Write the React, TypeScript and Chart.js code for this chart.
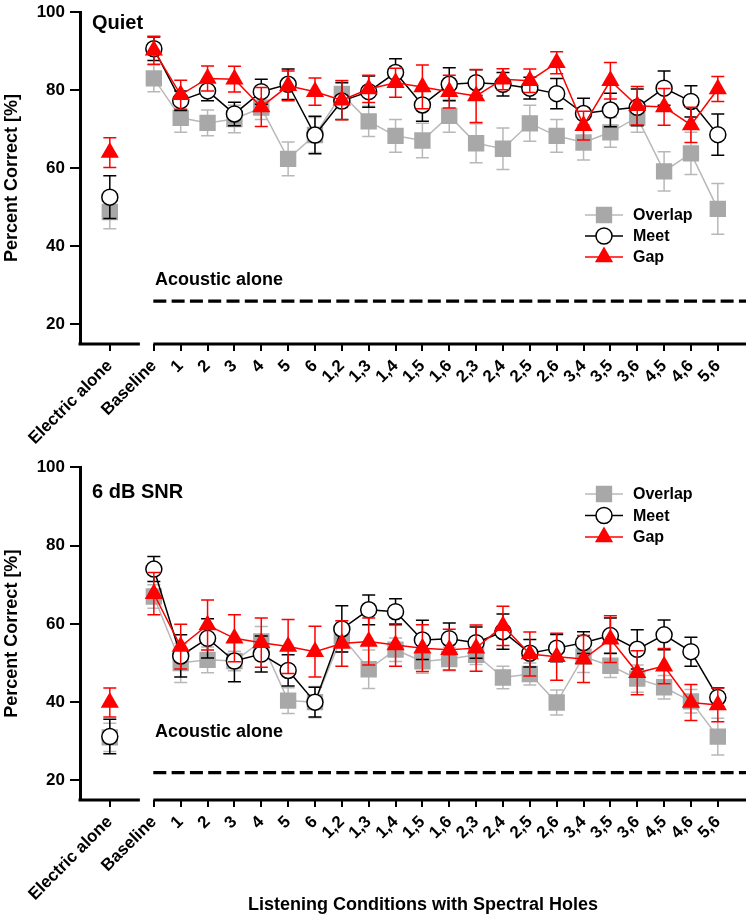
import React, { useEffect, useRef } from "react";
import { Chart, registerables } from "chart.js";

Chart.register(...registerables);

const FONT = '"Liberation Sans", Arial, sans-serif';

const CONDITIONS = [
  "Baseline", "1", "2", "3", "4", "5", "6",
  "1,2", "1,3", "1,4", "1,5", "1,6", "2,3", "2,4", "2,5", "2,6",
  "3,4", "3,5", "3,6", "4,5", "4,6", "5,6",
];
const ELECTRIC_LABEL = "Electric alone";
const ELECTRIC_POS = -1.64;
const X_MIN = -2.75;
const X_MAX = 22.05;
const AXIS_BREAK = [-0.52, -0.02];
const Y_TICKS = [20, 40, 60, 80, 100];

const SERIES_NAMES = ["Overlap", "Meet", "Gap"];

// Quiet
const QUIET_OVERLAP = [83, 72.9, 71.6, 72.6, 75.5, 62.4, 68.5, 79, 72, 68.3, 67.1, 73.4, 66.4, 65, 71.5, 68.3, 66.6, 69.2, 73, 59.2, 63.8, 49.6];
const QUIET_OVERLAP_ERR = [3.4, 3.7, 3.3, 3.5, 3, 4.3, 4.5, 3.5, 3.9, 4.2, 4.4, 4.2, 5, 5.3, 4.6, 4.2, 4.5, 3.8, 3.8, 5, 5.4, 6.5];
const QUIET_MEET = [90.6, 77.3, 79.8, 73.9, 79.6, 81.5, 68.5, 77.2, 79.6, 84.5, 76.2, 81.5, 81.9, 81.5, 80.5, 79.1, 74, 74.9, 75.6, 80.5, 77.1, 68.6];
const QUIET_MEET_ERR = [3, 2.5, 2.5, 3, 3.2, 3.9, 4.8, 4.7, 4, 3.5, 4.2, 4.2, 3.3, 3, 2.8, 3.9, 3.9, 4.3, 4.7, 4.4, 4, 5.3];
const QUIET_GAP = [90.2, 78.8, 83, 82.8, 75.7, 81.1, 79.6, 77.4, 80.3, 81.9, 80.8, 79.6, 78.5, 82.8, 82.4, 87, 70.9, 82.4, 76, 75.7, 71.1, 80.3];
const QUIET_GAP_ERR = [3.6, 3.7, 3.2, 3.3, 5, 3.8, 3.5, 5, 3.5, 3.7, 5.6, 4.2, 6.8, 2.7, 3, 2.8, 3.7, 4.7, 4.9, 4.7, 4.5, 3.2];
const QUIET_ELECTRIC = [48.8, 52.6, 64]; // overlap, meet, gap
const QUIET_ELECTRIC_ERR = [4.3, 5.5, 3.8];
const QUIET_ACOUSTIC = 26;

// 6 dB SNR
const SNR_OVERLAP = [67, 50, 50.8, 50.5, 55.5, 40.4, 40, 56.8, 48.4, 53.4, 50.4, 51, 52.1, 46.3, 47.2, 39.9, 51.6, 49.3, 46, 43.8, 40.2, 31.2];
const SNR_OVERLAP_ERR = [3, 5, 3.3, 2.5, 3.8, 3.3, 4, 4, 4.9, 3, 3, 3, 2.5, 2.9, 2.8, 3.2, 4, 3, 3.5, 3, 3, 4.7];
const SNR_MEET = [74, 51.8, 56.3, 50.5, 52.3, 48.1, 40, 58.7, 63.6, 63.1, 55.9, 56.2, 55.2, 58, 52.5, 53.8, 55.2, 57, 53.5, 57.2, 52.9, 41.2];
const SNR_MEET_ERR = [3.2, 5.4, 5, 5.3, 4.6, 4, 3.8, 5.9, 3.8, 3.3, 5, 4, 4, 4.5, 3.5, 3.5, 2.8, 4.5, 5, 3.8, 3.7, 2.5];
const SNR_GAP = [67.7, 54.2, 59.7, 56.3, 55.2, 54.2, 52.9, 55, 55.5, 54.6, 53.8, 53.4, 53.8, 59.5, 52.3, 51.6, 51, 56.1, 47.5, 49.2, 39.9, 39.3];
const SNR_GAP_ERR = [5.4, 5.7, 6.4, 6, 6.3, 6.9, 6.5, 5.8, 6, 5.4, 6, 5.2, 5.9, 5, 5.6, 6, 6, 6, 5.6, 4.5, 4.6, 4.3];
const SNR_ELECTRIC = [31, 31.2, 39.9];
const SNR_ELECTRIC_ERR = [3.6, 4.4, 3.7];
const SNR_ACOUSTIC = 22;

// marker / line styles per series
const STYLES = [
  { marker: "#a8a8a8", line: "#b8b8b8", fill: "#a8a8a8", point: "rect", radius: 10.5, order: 3 },
  { marker: "#000000", line: "#000000", fill: "#ffffff", point: "circle", radius: 8, order: 2 },
  { marker: "#ff0000", line: "#ff0000", fill: "#ff0000", point: "triangle", radius: 9, order: 1 },
];

// canvas is a bit wider than the page; the overflow is clipped by the wrapper
const CANVAS_W = 758;

const errorBars = {
  id: "errorBars",
  beforeDatasetDraw(chart: any, args: any) {
    const ds = chart.data.datasets[args.index];
    if (!ds.errors) return;
    const { ctx } = chart;
    const xs = chart.scales.x;
    const ys = chart.scales.y;
    ctx.save();
    ctx.strokeStyle = ds.borderColor;
    ctx.lineWidth = 1.5;
    ds.data.forEach((p: any, i: number) => {
      const e = ds.errors[i];
      const px = xs.getPixelForValue(p.x);
      const top = ys.getPixelForValue(p.y + e);
      const bot = ys.getPixelForValue(p.y - e);
      ctx.beginPath();
      ctx.moveTo(px, top);
      ctx.lineTo(px, bot);
      ctx.moveTo(px - 6.5, top);
      ctx.lineTo(px + 6.5, top);
      ctx.moveTo(px - 6.5, bot);
      ctx.lineTo(px + 6.5, bot);
      ctx.stroke();
    });
    ctx.restore();
  },
};

function drawMarker(ctx: CanvasRenderingContext2D, k: number, x: number, y: number) {
  const s = STYLES[k];
  ctx.fillStyle = s.fill;
  ctx.strokeStyle = s.marker;
  ctx.lineWidth = 1.5;
  ctx.beginPath();
  if (s.point === "rect") {
    const h = s.radius * Math.SQRT1_2;
    ctx.rect(x - h, y - h, 2 * h, 2 * h);
  } else if (s.point === "circle") {
    ctx.arc(x, y, s.radius, 0, Math.PI * 2);
  } else {
    const r = s.radius;
    ctx.moveTo(x, y - r);
    ctx.lineTo(x + r * 0.866, y + r * 0.5);
    ctx.lineTo(x - r * 0.866, y + r * 0.5);
    ctx.closePath();
  }
  ctx.fill();
  ctx.stroke();
}

const decor = {
  id: "decor",
  afterDraw(chart: any) {
    const o = chart.options.plugins.decor;
    const { ctx, chartArea } = chart;
    const xs = chart.scales.x;
    ctx.save();
    // broken x axis
    ctx.strokeStyle = "#000";
    ctx.lineWidth = 3;
    ctx.beginPath();
    ctx.moveTo(chartArea.left - 1.5, chartArea.bottom);
    ctx.lineTo(xs.getPixelForValue(AXIS_BREAK[0]), chartArea.bottom);
    ctx.moveTo(xs.getPixelForValue(AXIS_BREAK[1]), chartArea.bottom);
    ctx.lineTo(chartArea.right, chartArea.bottom);
    ctx.stroke();

    ctx.fillStyle = "#000";
    ctx.textAlign = "left";
    ctx.textBaseline = "alphabetic";
    ctx.font = `bold 20px ${FONT}`;
    ctx.fillText(o.title, 92, o.titleBaseline);
    ctx.font = `bold 18px ${FONT}`;
    ctx.fillText("Acoustic alone", 155, o.acousticBaseline);

    // legend
    SERIES_NAMES.forEach((name, k) => {
      const y = o.legendY + k * o.legendStep;
      ctx.strokeStyle = STYLES[k].line;
      ctx.lineWidth = 1.5;
      ctx.beginPath();
      ctx.moveTo(585, y);
      ctx.lineTo(623, y);
      ctx.stroke();
      drawMarker(ctx, k, 604, y);
      ctx.fillStyle = "#000";
      ctx.font = `bold 16px ${FONT}`;
      ctx.textBaseline = "middle";
      ctx.fillText(name, 633, y + 1);
    });

    if (o.xTitle) {
      ctx.textAlign = "center";
      ctx.textBaseline = "alphabetic";
      ctx.font = `bold 18px ${FONT}`;
      ctx.fillText(o.xTitle, 423, o.xTitleBaseline);
    }
    ctx.restore();
  },
};

type Panel = {
  title: string;
  values: number[][];
  errors: number[][];
  electric: number[];
  electricErr: number[];
  acoustic: number;
  height: number;
  areaTop: number;
  areaBottom: number;
  titleBaseline: number;
  acousticBaseline: number;
  legendY: number;
  legendStep: number;
  xTitle?: string;
  xTitleBaseline?: number;
};

function buildConfig(p: Panel): any {
  const datasets: any[] = [];
  STYLES.forEach((s, k) => {
    const common = {
      label: SERIES_NAMES[k],
      borderColor: s.line,
      backgroundColor: s.fill,
      pointBackgroundColor: s.fill,
      pointBorderColor: s.marker,
      pointStyle: s.point,
      pointRadius: s.radius,
      pointBorderWidth: 1.5,
      borderWidth: 1.5,
      order: s.order,
    };
    datasets.push({
      ...common,
      data: CONDITIONS.map((_, i) => ({ x: i, y: p.values[k][i] })),
      errors: p.errors[k],
    });
    datasets.push({
      ...common,
      showLine: false,
      data: [{ x: ELECTRIC_POS, y: p.electric[k] }],
      errors: [p.electricErr[k]],
    });
  });
  datasets.push({
    label: "Acoustic alone",
    data: [
      { x: AXIS_BREAK[1], y: p.acoustic },
      { x: X_MAX, y: p.acoustic },
    ],
    borderColor: "#000",
    borderWidth: 3.3,
    borderDash: [13, 5.3],
    pointRadius: 0,
    order: 5,
  });

  return {
    type: "line",
    data: { datasets },
    plugins: [errorBars, decor],
    options: {
      animation: false,
      responsive: false,
      events: [],
      layout: { padding: { top: p.areaTop, right: 4, left: 0, bottom: 0 } },
      plugins: {
        legend: { display: false },
        tooltip: { enabled: false },
        decor: {
          title: p.title,
          titleBaseline: p.titleBaseline,
          acousticBaseline: p.acousticBaseline,
          legendY: p.legendY,
          legendStep: p.legendStep,
          xTitle: p.xTitle,
          xTitleBaseline: p.xTitleBaseline,
        },
      },
      scales: {
        x: {
          type: "linear",
          min: X_MIN,
          max: X_MAX,
          afterBuildTicks: (scale: any) => {
            scale.ticks = [ELECTRIC_POS, ...CONDITIONS.map((_, i) => i)].map((v) => ({ value: v }));
          },
          afterFit: (scale: any) => {
            scale.height = p.height - p.areaBottom;
          },
          border: { display: false },
          grid: {
            display: true,
            drawOnChartArea: false,
            drawTicks: true,
            tickLength: 7,
            lineWidth: 2,
            color: "#000",
          },
          ticks: {
            autoSkip: false,
            minRotation: 45,
            maxRotation: 45,
            padding: 5,
            color: "#000",
            font: { family: FONT, size: 17, weight: "bold" },
            callback: (_v: any, i: number) => [ELECTRIC_LABEL, ...CONDITIONS][i],
          },
        },
        y: {
          min: 15,
          max: 100,
          afterBuildTicks: (scale: any) => {
            scale.ticks = Y_TICKS.map((v) => ({ value: v }));
          },
          afterFit: (scale: any) => {
            scale.width = 80;
            scale.paddingTop = 0;
            scale.paddingBottom = 0;
          },
          border: { display: true, color: "#000", width: 3 },
          grid: {
            display: true,
            drawOnChartArea: false,
            drawTicks: true,
            tickLength: 10,
            lineWidth: 2,
            color: "#000",
          },
          ticks: {
            padding: 5,
            color: "#000",
            font: { family: FONT, size: 17, weight: "bold" },
          },
          title: {
            display: true,
            text: "Percent Correct [%]",
            color: "#000",
            padding: { top: 1, bottom: 0 },
            font: { family: FONT, size: 18, weight: "bold" },
          },
        },
      },
    },
  };
}

const QUIET_PANEL: Panel = {
  title: "Quiet",
  values: [QUIET_OVERLAP, QUIET_MEET, QUIET_GAP],
  errors: [QUIET_OVERLAP_ERR, QUIET_MEET_ERR, QUIET_GAP_ERR],
  electric: QUIET_ELECTRIC,
  electricErr: QUIET_ELECTRIC_ERR,
  acoustic: QUIET_ACOUSTIC,
  height: 450,
  areaTop: 10,
  areaBottom: 344,
  titleBaseline: 29,
  acousticBaseline: 284.5,
  legendY: 215,
  legendStep: 21,
};

const SNR_PANEL: Panel = {
  title: "6 dB SNR",
  values: [SNR_OVERLAP, SNR_MEET, SNR_GAP],
  errors: [SNR_OVERLAP_ERR, SNR_MEET_ERR, SNR_GAP_ERR],
  electric: SNR_ELECTRIC,
  electricErr: SNR_ELECTRIC_ERR,
  acoustic: SNR_ACOUSTIC,
  height: 468,
  areaTop: 17.3,
  areaBottom: 350,
  titleBaseline: 47.7,
  acousticBaseline: 286.7,
  legendY: 44,
  legendStep: 21.5,
  xTitle: "Listening Conditions with Spectral Holes",
  xTitleBaseline: 459.5,
};

function PanelChart({ panel, top }: { panel: Panel; top: number }) {
  const canvasRef = useRef<HTMLCanvasElement | null>(null);
  const chartRef = useRef<Chart | null>(null);

  useEffect(() => {
    const ctx = canvasRef.current?.getContext("2d");
    if (chartRef.current) chartRef.current.destroy();
    if (ctx) chartRef.current = new Chart(ctx, buildConfig(panel));
    return () => {
      if (chartRef.current) {
        chartRef.current.destroy();
        chartRef.current = null;
      }
    };
  }, [panel]);

  return (
    <canvas
      ref={canvasRef}
      width={CANVAS_W}
      height={panel.height}
      style={{ position: "absolute", left: 0, top, width: CANVAS_W, height: panel.height, display: "block" }}
    />
  );
}

export default function App() {
  return (
    <div
      style={{
        position: "absolute",
        left: 0,
        top: 0,
        width: 750,
        height: 918,
        overflow: "hidden",
        background: "#fff",
      }}
    >
      <PanelChart panel={QUIET_PANEL} top={0} />
      <PanelChart panel={SNR_PANEL} top={450} />
    </div>
  );
}
